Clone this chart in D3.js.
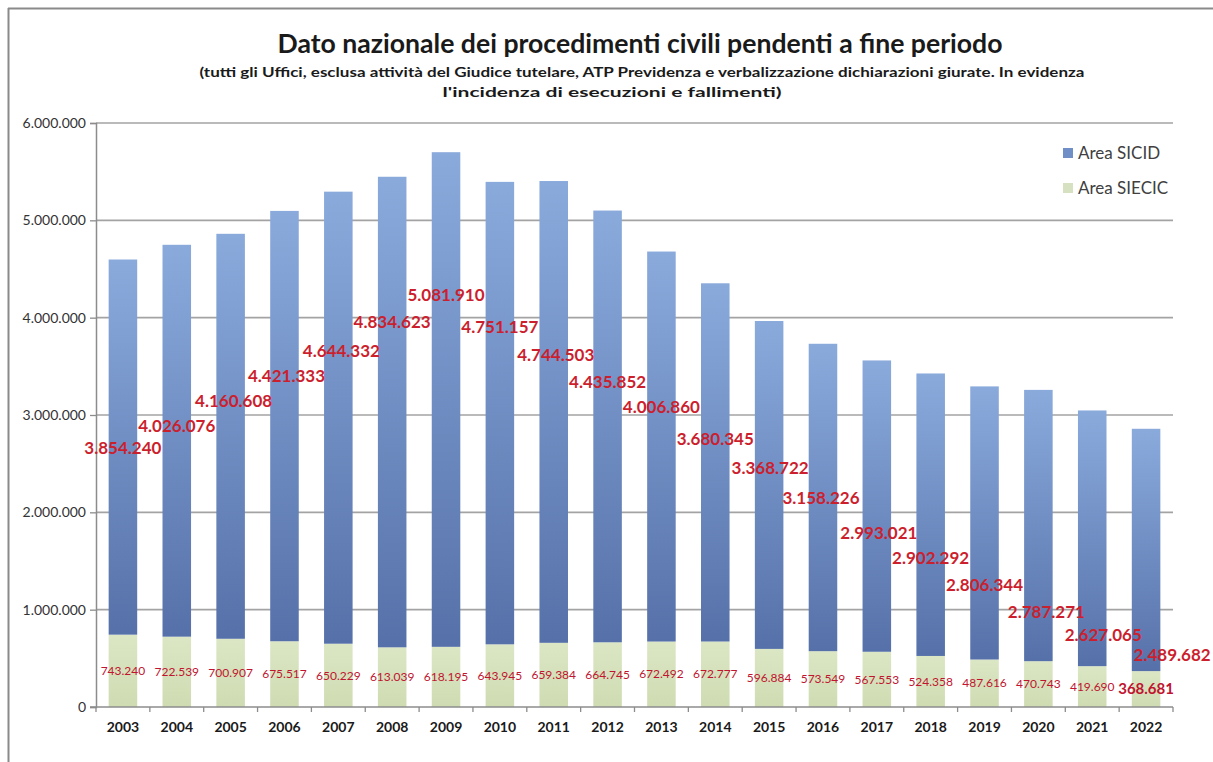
<!DOCTYPE html>
<html>
<head>
<meta charset="utf-8">
<script src="https://cdn.jsdelivr.net/npm/d3@7/dist/d3.min.js"></script>
<style>
  html, body { margin: 0; padding: 0; background: #fff; }
  svg { display: block; font-family: Lato, "Open Sans", "DejaVu Sans", sans-serif; }
</style>
</head>
<body>
<svg id="chart" width="1213" height="762"></svg>
<script>
// ---------- DATA ----------
const years = ["2003","2004","2005","2006","2007","2008","2009","2010","2011","2012",
               "2013","2014","2015","2016","2017","2018","2019","2020","2021","2022"];
const sicid = [3854240,4026076,4160608,4421333,4644332,4834623,5081910,4751157,4744503,4435852,
               4006860,3680345,3368722,3158226,2993021,2902292,2806344,2787271,2627065,2489682];
const siecic = [743240,722539,700907,675517,650229,613039,618195,643945,659384,664745,
                672492,672777,596884,573549,567553,524358,487616,470743,419690,368681];
const yTicks = [0,1000000,2000000,3000000,4000000,5000000,6000000];
const seriesNames = ["Area SICID","Area SIECIC"];
const titleText = "Dato nazionale dei procedimenti civili pendenti a fine periodo";
const subtitle1 = "(tutti gli Uffici, esclusa attività del Giudice tutelare, ATP Previdenza e verbalizzazione dichiarazioni giurate. In evidenza";
const subtitle2 = "l'incidenza di esecuzioni e fallimenti)";

// ---------- LAYOUT (manually placed SICID labels, as in the original) ----------
const sicidLabelAnchor = [2.661e6,2.887e6,3.144e6,3.401e6,3.658e6,3.955e6,4.233e6,3.904e6,3.616e6,3.339e6,
                          3.082e6,2.753e6,2.455e6,2.147e6,1.788e6,1.531e6,1.253e6,0.976e6,0.740e6,0.534e6];
const sicidLabelDx = [0,0,3,2,3,0,0,0,2,0,0,0,1,-2,2,0,0,8,11,26];

const W = 1213, H = 762;
const margin = {left: 96, right: W - 1173, top: 123, bottom: H - 707};

const svg = d3.select("#chart");
const defs = svg.append("defs");

const gBlue = defs.append("linearGradient").attr("id","gBlue")
  .attr("x1",0).attr("y1",0).attr("x2",0).attr("y2",1);
gBlue.append("stop").attr("offset","0%").attr("stop-color","#8aaadc");
gBlue.append("stop").attr("offset","100%").attr("stop-color","#5671a9");

const gGreen = defs.append("linearGradient").attr("id","gGreen")
  .attr("x1",0).attr("y1",0).attr("x2",0).attr("y2",1);
gGreen.append("stop").attr("offset","0%").attr("stop-color","#dbe6c4");
gGreen.append("stop").attr("offset","100%").attr("stop-color","#cfdcb2");

// frame
svg.append("rect").attr("width",W).attr("height",H).attr("fill","#fff");
svg.append("line").attr("x1",8).attr("x2",W).attr("y1",8.5).attr("y2",8.5)
  .attr("stroke","#8a8a8a").attr("stroke-width",2);
svg.append("line").attr("x1",8.5).attr("x2",8.5).attr("y1",8).attr("y2",H)
  .attr("stroke","#8a8a8a").attr("stroke-width",2);

const it = d3.formatLocale({decimal: ",", thousands: ".", grouping: [3], currency: ["€",""]});
const fmt = it.format(",d");

const x = d3.scaleBand().domain(years).range([margin.left, W - margin.right])
  .paddingInner(0.47).paddingOuter(0.235);
const y = d3.scaleLinear().domain([0, 6000000]).range([H - margin.bottom, margin.top]);

// gridlines
svg.append("g").selectAll("line").data(yTicks.filter(d => d > 0)).join("line")
  .attr("x1", margin.left).attr("x2", W - margin.right)
  .attr("y1", d => y(d)).attr("y2", d => y(d))
  .attr("stroke","#a3a3a3").attr("stroke-width",1.6);

// y axis
const yAxis = svg.append("g").attr("transform",`translate(${margin.left},0)`)
  .call(d3.axisLeft(y).tickValues(yTicks).tickFormat(d => d === 0 ? "0" : fmt(d)).tickSize(6).tickPadding(4));
yAxis.select(".domain").attr("stroke","#8c8c8c").attr("stroke-width",1.5);
yAxis.selectAll(".tick line").attr("stroke","#8c8c8c").attr("stroke-width",1.3);
yAxis.selectAll(".tick text").attr("font-size",14).attr("fill","#333").attr("font-family","Lato");

// bars
const gb = svg.append("g");
gb.selectAll("rect.siecic").data(years).join("rect").attr("class","siecic")
  .attr("x", d => x(d)).attr("width", x.bandwidth())
  .attr("y", (d,i) => y(siecic[i])).attr("height", (d,i) => y(0) - y(siecic[i]))
  .attr("fill","url(#gGreen)");
gb.selectAll("rect.sicid").data(years).join("rect").attr("class","sicid")
  .attr("x", d => x(d)).attr("width", x.bandwidth())
  .attr("y", (d,i) => y(siecic[i] + sicid[i])).attr("height", (d,i) => y(siecic[i]) - y(siecic[i] + sicid[i]))
  .attr("fill","url(#gBlue)");

// x axis
const xAxisG = svg.append("g").attr("transform",`translate(0,${y(0)})`);
xAxisG.append("line").attr("x1", margin.left - 6).attr("x2", W - margin.right)
  .attr("stroke","#8c8c8c").attr("stroke-width",1.5);
const step = x.step();
const bounds = d3.range(years.length + 1).map(i => margin.left + i * step);
xAxisG.selectAll("line.tk").data(bounds).join("line").attr("class","tk")
  .attr("x1", d => d).attr("x2", d => d).attr("y1", 0).attr("y2", 5)
  .attr("stroke","#8c8c8c").attr("stroke-width",1.3);
xAxisG.selectAll("text").data(years).join("text")
  .attr("x", d => x(d) + x.bandwidth()/2).attr("y", 25)
  .attr("text-anchor","middle").attr("font-size",14).attr("font-weight",700).attr("fill","#1a1a1a")
  .text(d => d);

// SIECIC labels (centered in the segment)
svg.append("g").selectAll("text").data(years).join("text")
  .attr("x", d => x(d) + x.bandwidth()/2)
  .attr("y", (d,i) => y(siecic[i] / 2))
  .attr("dy","0.35em")
  .attr("text-anchor","middle")
  .attr("font-size", (d,i) => i === years.length - 1 ? 15 : 12)
  .attr("font-weight", (d,i) => i === years.length - 1 ? 700 : 400)
  .attr("fill","#c0142f")
  .text((d,i) => fmt(siecic[i]));

// SICID labels
svg.append("g").selectAll("text").data(years).join("text")
  .attr("x", (d,i) => x(d) + x.bandwidth()/2 + sicidLabelDx[i])
  .attr("y", (d,i) => y(sicidLabelAnchor[i]))
  .attr("dy","0.35em")
  .attr("text-anchor","middle")
  .attr("font-size",17).attr("font-weight",700)
  .attr("fill","#cc1f2e")
  .text((d,i) => fmt(sicid[i]));

// title
svg.append("text").attr("x",640).attr("y",53).attr("text-anchor","middle")
  .attr("font-size",26).attr("font-weight",700).attr("fill","#1a1a1a")
  .attr("textLength",725).attr("lengthAdjust","spacingAndGlyphs")
  .text(titleText);
svg.append("text").attr("x",642).attr("y",77).attr("text-anchor","middle")
  .attr("font-size",14).attr("font-weight",700).attr("fill","#1a1a1a")
  .attr("textLength",885).attr("lengthAdjust","spacingAndGlyphs")
  .text(subtitle1);
svg.append("text").attr("x",612).attr("y",97).attr("text-anchor","middle")
  .attr("font-size",14).attr("font-weight",700).attr("fill","#1a1a1a")
  .attr("textLength",339).attr("lengthAdjust","spacingAndGlyphs")
  .text(subtitle2);

// legend
const legendColors = ["#6f8fc6","#d5e1c0"];
const lg = svg.append("g");
seriesNames.forEach((n,i) => {
  const cy = 153 + i * 35;
  lg.append("rect").attr("x",1063).attr("y",cy - 5).attr("width",10).attr("height",10).attr("fill",legendColors[i]);
  lg.append("text").attr("x",1078).attr("y",cy).attr("dy","0.35em")
    .attr("font-size",17).attr("fill","#404040").text(n);
});
</script>
</body>
</html>
